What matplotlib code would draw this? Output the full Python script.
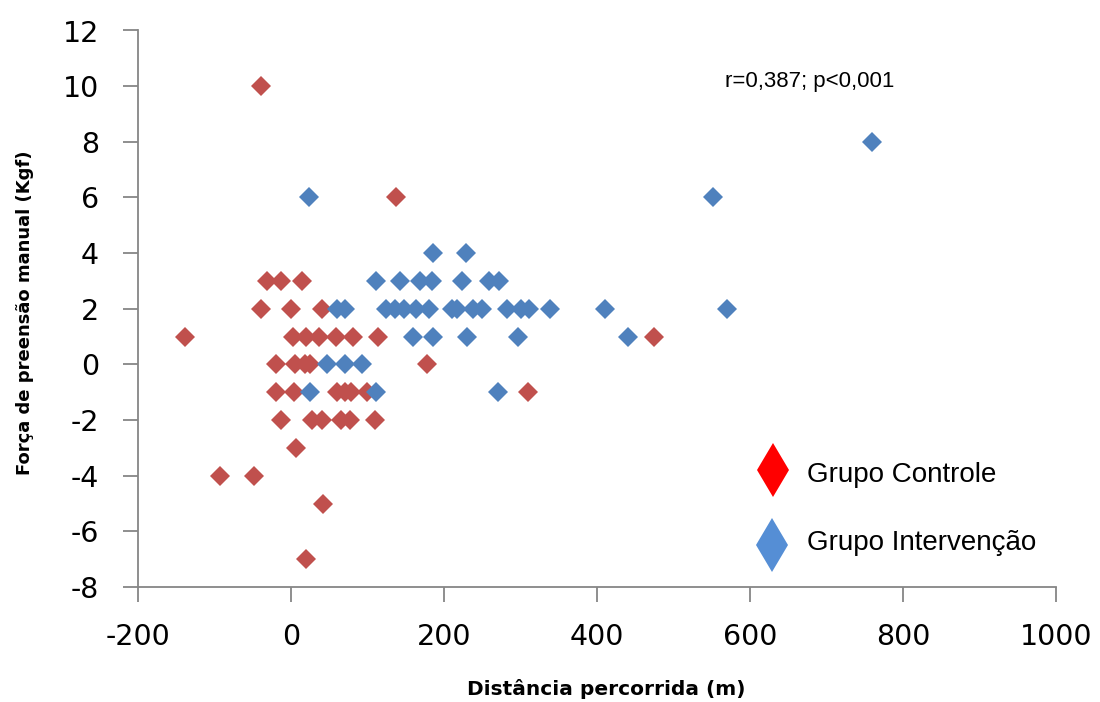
import matplotlib
matplotlib.use("Agg")
import matplotlib.pyplot as plt
from matplotlib.lines import Line2D

plt.rcParams['axes.unicode_minus'] = False

# Grupo Controle
ctrl_x = [-39, 137,
          -32, -13, 15,
          -39, 0, 41,
          -139, 3, 19, 36, 59, 81, 114, 474,
          -20, 5, 18, 25, 178,
          -20, 4, 60, 71, 79, 99, 310,
          -13, 27, 40, 66, 77, 110,
          6, -93, -48, 42, 20]
ctrl_y = [10, 6,
          3, 3, 3,
          2, 2, 2,
          1, 1, 1, 1, 1, 1, 1, 1,
          0, 0, 0, 0, 0,
          -1, -1, -1, -1, -1, -1, -1,
          -2, -2, -2, -2, -2, -2,
          -3, -4, -4, -5, -7]

# Grupo Intervenção
int_x = [23, 760, 551,
         185, 229,
         111, 143, 169, 184, 223, 259, 272,
         60, 71, 124, 136, 148, 164, 181, 210, 217, 238, 250, 282, 300, 311, 338, 410, 570,
         159, 186, 230, 297, 441,
         47, 71, 93,
         25, 111, 271]
int_y = [6, 8, 6,
         4, 4,
         3, 3, 3, 3, 3, 3, 3,
         2, 2, 2, 2, 2, 2, 2, 2, 2, 2, 2, 2, 2, 2, 2, 2, 2,
         1, 1, 1, 1, 1,
         0, 0, 0,
         -1, -1, -1]

x_ticks = [-200, 0, 200, 400, 600, 800, 1000]
y_ticks = [-8, -6, -4, -2, 0, 2, 4, 6, 8, 10, 12]

W, H = 1100, 702
fig = plt.figure(figsize=(W / 100, H / 100), dpi=100)
ax = fig.add_axes([138 / W, 1 - 587 / H, (1056 - 138) / W, (587 - 30.5) / H])

ms = 10
ax.plot(ctrl_x, ctrl_y, linestyle='none', marker='D', markersize=ms,
        color='#C0504D', markeredgewidth=0, zorder=3)
ax.plot(int_x, int_y, linestyle='none', marker='D', markersize=ms,
        color='#4F81BD', markeredgewidth=0, zorder=3)

ax.set_xlim(-200, 1000)
ax.set_ylim(-8, 12)
ax.set_xticks(x_ticks)
ax.set_yticks(y_ticks)

for s in ['top', 'right']:
    ax.spines[s].set_visible(False)
for s in ['left', 'bottom']:
    ax.spines[s].set_color('#868686')
    ax.spines[s].set_linewidth(1.3)
ax.tick_params(axis='both', direction='out', length=11, width=1.3, color='#868686')
ax.tick_params(axis='y', labelsize=20.5, pad=17)
ax.tick_params(axis='x', labelsize=20.5, pad=15)

ax.set_xlabel('Distância percorrida (m)', fontsize=14.5, fontweight='bold')
ax.xaxis.set_label_coords((606 - 138) / 918, (587 - 689) / 556.5)
ax.xaxis.label.set_va('center')
ax.set_ylabel('Força de preensão manual (Kgf)', fontsize=13, fontweight='bold')
ax.yaxis.set_label_coords((25 - 138) / 918, (587 - 313) / 556.5)
ax.yaxis.label.set_va('center')

fig.text(725 / W, 1 - 81 / H, 'r=0,387; p<0,001', fontsize=16,
         family='Liberation Sans', va='center', ha='left')

# legend entries
leg_labels = ['Grupo Controle', 'Grupo Intervenção']
leg_colors = ['#FF0000', '#558ED5']
leg_marker_xy = [(773, 469.5), (771.5, 545)]
leg_text_y = [475, 543]
for lab, col, (mx, my), ty in zip(leg_labels, leg_colors, leg_marker_xy, leg_text_y):
    fig.add_artist(Line2D([mx / W], [1 - my / H], transform=fig.transFigure,
                          linestyle='none', marker='d', markersize=28,
                          color=col, markeredgewidth=0))
    fig.text(807 / W, 1 - ty / H, lab, fontsize=20, family='Liberation Sans',
             va='center', ha='left')

fig.savefig('out.png', dpi=100)
